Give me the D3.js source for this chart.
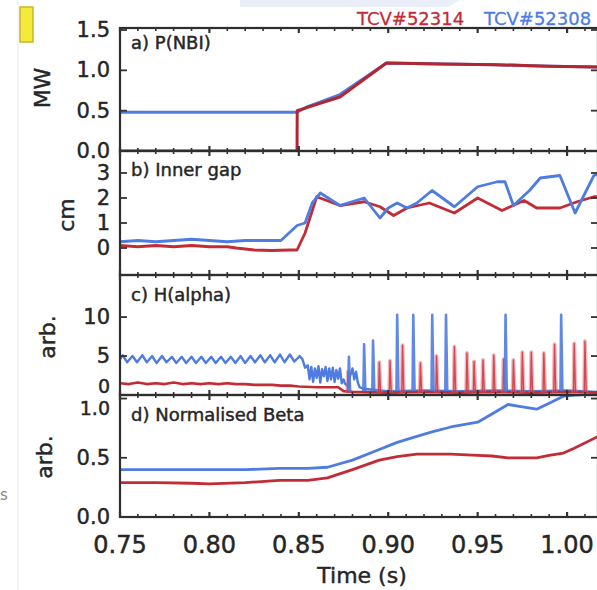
<!DOCTYPE html>
<html><head><meta charset="utf-8">
<script src="https://cdn.jsdelivr.net/npm/d3@7"></script>
<style>
body{margin:0;background:#fff;}
svg{display:block;}
text{font-family:"DejaVu Sans",sans-serif;fill:#262626;stroke:#262626;stroke-width:0.45px;}
</style>
</head><body>
<svg id="chart" width="597" height="590"></svg>
<script>
// ---------- DATA ----------
const legendLabels = ["TCV#52314", "TCV#52308"];
const panelTitles = ["a) P(NBI)", "b) Inner gap", "c) H(alpha)", "d) Normalised Beta"];
const yTitles = ["MW", "cm", "arb.", "arb."];
const xTickValues = [0.75, 0.80, 0.85, 0.90, 0.95, 1.00];
const xTickLabels = ["0.75", "0.80", "0.85", "0.90", "0.95", "1.00"];
const yTicksA = [0, 0.5, 1.0, 1.5];
const yTicksB = [0, 1, 2, 3];
const yTicksC = [0, 5, 10];
const yTicksD = [0, 0.5, 1.0];

// a) P(NBI)
const nbiTimeRed  = [0.75, 0.8490, 0.8491, 0.873, 0.899, 0.93, 0.96, 0.99, 1.0173];
const nbiRed      = [0.00, 0.00,   0.50,   0.67,  1.09,  1.08, 1.07, 1.05, 1.04];
const nbiTimeBlue = [0.75, 0.849, 0.855, 0.873, 0.899, 0.93, 0.96, 0.99, 1.0173];
const nbiBlue     = [0.48, 0.48,  0.55,  0.70,  1.09,  1.08, 1.07, 1.05, 1.04];

// b) Inner gap
const gapTimeRed = [0.75, 0.76, 0.77, 0.78, 0.79, 0.80, 0.81, 0.815, 0.825, 0.835, 0.845, 0.849, 0.8535, 0.860, 0.873, 0.8865, 0.8954, 0.903, 0.9105, 0.923, 0.937, 0.950, 0.9636, 0.976, 0.983, 0.996, 1.0056, 1.015, 1.0173];
const gapRed     = [0.10, 0.05, 0.10, 0.05, 0.10, 0.05, 0.05, 0.00,  -0.08, -0.10, -0.08, -0.08, 0.60,  2.05,  1.70,  1.85,   1.65,   1.30,  1.60,   1.80,  1.40,  2.00,  1.50,   1.90,  1.60,  1.60,  1.85,   2.05,  2.05];
const gapTimeBlue = [0.75, 0.76, 0.77, 0.78, 0.79, 0.80, 0.81, 0.82, 0.83, 0.84, 0.849, 0.8535, 0.8575, 0.862, 0.873, 0.8865, 0.8954, 0.900, 0.905, 0.9105, 0.916, 0.9245, 0.937, 0.950, 0.961, 0.9653, 0.970, 0.979, 0.985, 0.996, 1.0045, 1.015, 1.0173];
const gapBlue     = [0.25, 0.30, 0.25, 0.30, 0.35, 0.30, 0.25, 0.30, 0.30, 0.30, 0.90,  1.00,   1.80,   2.20,  1.70,  2.00,   1.20,   1.60,  1.80,  1.60,   1.80,  2.30,   1.65,  2.45,  2.65,  2.65,   1.70,  2.30,  2.80,  2.90,  1.40,   2.90,  2.95];

// c) H(alpha) background traces
const haTimeBlue = [0.750, 0.7515, 0.754, 0.757, 0.7595, 0.7625, 0.765, 0.768, 0.7705, 0.7735, 0.776, 0.779, 0.7815, 0.7845, 0.787, 0.790, 0.7925, 0.7955, 0.798, 0.801, 0.8035, 0.8065, 0.809, 0.812, 0.8145, 0.8175, 0.820, 0.823, 0.8255, 0.8285, 0.831, 0.834, 0.8365, 0.8395, 0.842, 0.845, 0.8475, 0.8505, 0.852, 0.8535, 0.855, 0.856, 0.857, 0.858, 0.859, 0.860, 0.861, 0.862, 0.863, 0.864, 0.865, 0.866, 0.867, 0.868, 0.869, 0.870, 0.871, 0.872, 0.873, 0.874, 0.875, 0.876, 0.877, 0.880, 0.881, 0.882, 0.883, 0.884, 0.886, 0.890, 0.895, 0.90, 0.92, 0.94, 0.96, 0.98, 1.00, 1.0173];
const haBlue     = [4.6,   5.1,    4.2,   5.0,   4.2,    5.1,    4.2,   5.0,   4.1,    5.0,    4.2,   4.9,   4.1,    4.9,    4.1,   4.9,   4.1,    4.9,    4.1,   4.9,   4.1,    4.9,    4.1,   4.9,   4.1,    5.0,    4.1,   5.0,   4.2,    5.1,    4.2,   5.1,   4.2,    5.2,    4.2,   5.2,   4.3,    5.0,    4.6,   3.5,    3.8,   2.0,   3.6,   1.7,   3.4,   2.2,   3.7,   1.6,   3.3,   2.4,   3.6,   1.8,   3.4,   2.0,   3.5,   1.7,   3.2,   2.1,   3.4,   1.5,   2.0,   1.4,   1.2,   3.4,   2.0,   3.0,   1.6,   1.0,   0.8,   0.7,   0.6,   0.5,  0.6,  0.5,  0.6,  0.5,  0.6,  0.4];
const haTimeRed = [0.75, 0.755, 0.76, 0.765, 0.77, 0.775, 0.78, 0.785, 0.79, 0.795, 0.80, 0.805, 0.81, 0.815, 0.82, 0.825, 0.83, 0.835, 0.84, 0.845, 0.85, 0.86, 0.872, 0.875, 0.88, 0.90, 0.92, 0.94, 0.96, 0.98, 1.00, 1.0173];
const haRed     = [1.5,  1.4,   1.6,  1.4,   1.5,  1.4,   1.6,  1.4,   1.5,  1.4,   1.5,  1.4,   1.5,  1.4,   1.4,  1.3,   1.3,  1.3,   1.2,  1.2,   1.1,  1.0,  1.0,   0.5,   0.4,  0.3,  0.4,  0.3,  0.4,  0.3,  0.4,  0.3];
// c) ELM spikes (time, peak)
const elmTimeRed = [0.8775, 0.895, 0.901, 0.908, 0.918, 0.927, 0.937, 0.944, 0.948, 0.953, 0.959, 0.9645, 0.970, 0.975, 0.980, 0.987, 0.993, 1.004, 1.010];
const elmRed     = [3.0,    4.2,   4.4,   6.4,   4.1,   5.0,   6.2,   5.4,   4.3,   4.5,   5.1,   4.6,    4.5,   5.5,   5.5,   5.4,   6.5,   6.6,   6.9];
const elmTimeBlue = [0.878, 0.8865, 0.8915, 0.905, 0.914, 0.9246, 0.9323, 0.9656, 0.9967];
const elmBlue     = [4.9,   6.5,    7.0,    10.3,  10.3,  10.3,   10.3,   10.3,   10.3];

// d) Normalised Beta
const betaTime = [0.75, 0.77, 0.79, 0.80, 0.82, 0.839, 0.855, 0.866, 0.88, 0.895, 0.905, 0.916, 0.925, 0.935, 0.95, 0.958, 0.967, 0.975, 0.983, 0.99, 0.998, 1.004, 1.0173];
const betaBlue = [0.40, 0.40, 0.40, 0.40, 0.40, 0.41,  0.41,  0.42,  0.48, 0.57,  0.63,  0.68,  0.72,  0.76,  0.80, 0.87,  0.95,  0.93,  0.91,  0.96, 1.02,  1.03,  1.04];
const betaRed  = [0.29, 0.29, 0.285,0.28, 0.29, 0.31,  0.31,  0.33,  0.40, 0.48,  0.51,  0.53,  0.53,  0.53,  0.52, 0.515, 0.50,  0.50,  0.50,  0.52, 0.54,  0.58,  0.68];

// ---------- DRAW ----------
const RED = "#c22c36", BLUE = "#4f7ce0";
const svg = d3.select("#chart");
const x = d3.scaleLinear().domain([0.75, 1.0173]).range([120, 598]);
const xL = 120, xR = 598;

// screenshot decorations
svg.append("line").attr("x1",18).attr("x2",18).attr("y1",0).attr("y2",590).attr("stroke","#ececec").attr("stroke-width",1);
svg.append("path").attr("d","M240,0 L460,0 L448,7 L240,7 Z").attr("fill","#e9eef8");
svg.append("rect").attr("x",20).attr("y",7).attr("width",13).attr("height",35).attr("fill","#f4ea3c").attr("stroke","#c9b626").attr("stroke-width",1.5);
svg.append("text").attr("x",0).attr("y",500).attr("font-size",15).style("fill","#888").style("stroke","none").text("s");

const panels = [
  {y: d3.scaleLinear().domain([0, 1.525]).range([151, 28]), ticks: yTicksA, fmt: d3.format(".1f")},
  {y: d3.scaleLinear().domain([-1.08, 3.88]).range([275, 151]), ticks: yTicksB, fmt: d3.format("d")},
  {y: d3.scaleLinear().domain([0, 15.4]).range([395, 275]), ticks: yTicksC, fmt: d3.format("d")},
  {y: d3.scaleLinear().domain([0, 1.03]).range([517, 395]), ticks: yTicksD, fmt: d3.format(".1f")}
];
// label nudges / sizes where the 0 of panel c meets the 1.0 of panel d
const labelNudge = [[0,0,0,0],[0,0,0,0],[-9,0,0],[0,0,9]];
const labelSize  = [[21,21,21,21],[21,21,21,21],[19,21,21],[21,21,19]];

const defs = svg.append("defs");
panels.forEach((p, i) => {
  const [b, t] = p.y.range();
  defs.append("clipPath").attr("id","clip"+i).append("rect")
    .attr("x", xL).attr("y", t).attr("width", xR - xL).attr("height", b - t);
});

function drawLine(i, times, vals, color, width, opacity) {
  const p = panels[i];
  const line = d3.line().x((d) => x(d[0])).y((d) => p.y(d[1]));
  svg.append("path").attr("clip-path", `url(#clip${i})`)
    .attr("d", line(d3.zip(times, vals)))
    .attr("fill","none").attr("stroke", color).attr("stroke-width", width)
    .attr("stroke-linejoin","round").attr("opacity", opacity == null ? 1 : opacity);
}
function drawSpikes(i, times, vals, base, color, width, opacity) {
  const p = panels[i];
  const line = d3.line().x((d) => x(d[0])).y((d) => p.y(d[1]));
  times.forEach((t, k) => {
    svg.append("path").attr("clip-path", `url(#clip${i})`)
      .attr("d", line([[t - 0.0004, base], [t, vals[k]], [t + 0.0007, base]]))
      .attr("fill","none").attr("stroke", color).attr("stroke-width", width)
      .attr("stroke-linejoin","round").attr("opacity", opacity);
  });
}

// a
drawLine(0, nbiTimeBlue, nbiBlue, BLUE, 3);
drawLine(0, nbiTimeRed, nbiRed, "#b3262f", 3);
// b
drawLine(1, gapTimeRed, gapRed, RED, 2.8);
drawLine(1, gapTimeBlue, gapBlue, BLUE, 2.8);
// c
drawLine(2, haTimeBlue, haBlue, BLUE, 2.4);
drawLine(2, haTimeRed, haRed, RED, 2.6);
drawSpikes(2, elmTimeRed, elmRed, 0.3, "#e0707a", 4, 0.5);
drawSpikes(2, elmTimeRed, elmRed, 0.3, "#c8303a", 1.4, 0.8);
drawSpikes(2, elmTimeBlue, elmBlue, 0.5, BLUE, 2.6, 0.9);
// d
drawLine(3, betaTime, betaBlue, BLUE, 2.8);
drawLine(3, betaTime, betaRed, RED, 2.8);

// frames and ticks
const minorTicks = d3.range(75, 102).map((k) => k / 100);
panels.forEach((p, i) => {
  const [b, t] = p.y.range();
  svg.append("rect").attr("x", xL).attr("y", t).attr("width", xR - xL).attr("height", b - t)
    .attr("fill","none").attr("stroke","#2e2e2e").attr("stroke-width",2.2);
  minorTicks.forEach((v) => {
    const major = Math.abs(v * 20 - Math.round(v * 20)) < 1e-6;
    const len = major ? 5 : 3;
    const g = svg.append("g").attr("stroke","#333").attr("stroke-width", major ? 2.2 : 1.6);
    g.append("line").attr("x1", x(v)).attr("x2", x(v)).attr("y1", t).attr("y2", t + len);
    g.append("line").attr("x1", x(v)).attr("x2", x(v)).attr("y1", b).attr("y2", b - len);
  });
  p.ticks.forEach((v, k) => {
    const yy = p.y(v);
    svg.append("line").attr("x1", xL).attr("x2", xL + 7).attr("y1", yy).attr("y2", yy).attr("stroke","#333").attr("stroke-width",1.8);
    svg.append("line").attr("x1", xR).attr("x2", xR - 7).attr("y1", yy).attr("y2", yy).attr("stroke","#333").attr("stroke-width",1.8);
    svg.append("text").attr("x", 110).attr("y", yy + labelNudge[i][k]).attr("text-anchor","end")
      .attr("dominant-baseline","central").attr("font-size", labelSize[i][k]).text(p.fmt(v));
  });
});

// panel titles
const titleY = [49, 176, 301, 421];
panelTitles.forEach((s, i) => {
  svg.append("text").attr("x", 131).attr("y", titleY[i]).attr("font-size", 18).text(s);
});

// y titles
const yTitlePos = [[42, 88], [66, 215], [47, 337], [44, 457]];
yTitles.forEach((s, i) => {
  svg.append("text").attr("transform", `translate(${yTitlePos[i][0]},${yTitlePos[i][1]}) rotate(-90)`)
    .attr("text-anchor","middle").attr("dominant-baseline","central").attr("font-size", 22).text(s);
});

// x axis labels
xTickValues.forEach((v, k) => {
  svg.append("text").attr("x", x(v)).attr("y", 553).attr("text-anchor","middle").attr("font-size", 24).text(xTickLabels[k]);
});
svg.append("text").attr("x", 362).attr("y", 583).attr("text-anchor","middle").attr("font-size", 22).text("Time (s)");

// legend
svg.append("text").attr("x", 357).attr("y", 25).attr("font-size", 18).style("fill", RED).style("stroke", RED).style("stroke-width","0.3px").text(legendLabels[0]);
svg.append("text").attr("x", 484).attr("y", 25).attr("font-size", 18).style("fill", BLUE).style("stroke", BLUE).style("stroke-width","0.3px").text(legendLabels[1]);
</script>
</body></html>
